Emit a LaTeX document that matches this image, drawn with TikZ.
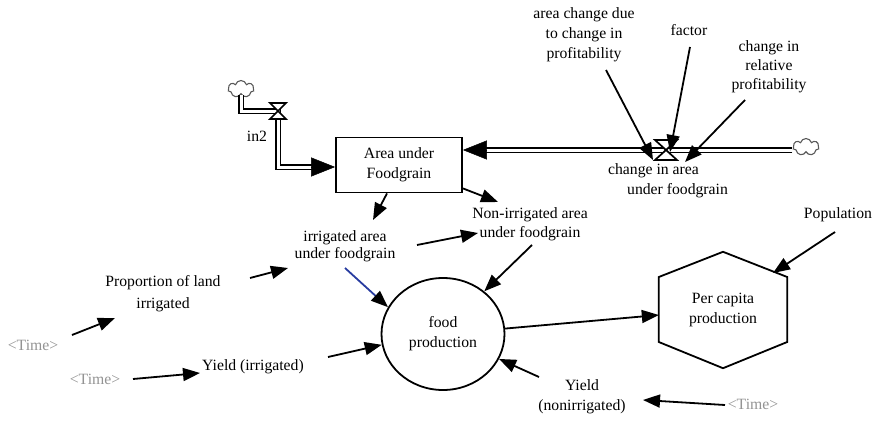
\documentclass[tikz,border=0pt]{standalone}
\usepackage{fontspec}
\setmainfont{Liberation Serif}
\usetikzlibrary{arrows.meta,shapes.geometric,shapes.symbols,calc}
\definecolor{linkblue}{RGB}{40,60,160}
\begin{document}
\begin{tikzpicture}[x=1pt,y=-1pt,
 every node/.style={font=\fontsize{15.7}{20}\selectfont, align=center, inner sep=1pt},
 lnk/.style={line width=1.8pt, -{Triangle[length=17pt,width=13pt]}},
 pipe/.style={double, line width=1.7pt, double distance=3pt},
 pipetip/.style={line width=0.5pt, -{Triangle[length=24pt,width=19pt]}},
 valvest/.style={fill=white, draw, line width=1.7pt, line join=miter},
 cloudst/.style={cloud, cloud puffs=7, aspect=1.6, draw=gray!70!black, line width=1.1pt, minimum width=26pt, minimum height=17pt, inner sep=0pt},
 tm/.style={text=gray!85},
]
\useasboundingbox (0,0) rectangle (880,420);

\node (t1) at (584,35) {area change due\\to change in\\profitability};
\node (factor) at (689,30) {factor};
\node[font=\fontsize{15.7}{19}\selectfont] (relp) at (769,67) {change in\\relative\\profitability};
\node[align=left] (chg) at (668,181) {change in area\\\hspace*{19pt}under foodgrain};
\node[draw, line width=1.8pt, minimum width=126pt, minimum height=55pt] (box) at (399,165) {Area under\\Foodgrain};
\node[font=\fontsize{15.7}{19}\selectfont] (nonirr) at (530,224) {Non-irrigated area\\under foodgrain};
\node[font=\fontsize{15.7}{17.5}\selectfont] (irr) at (345,246) {irrigated area\\under foodgrain};
\node[font=\fontsize{15.7}{22}\selectfont] (prop) at (163,294) {Proportion of land\\irrigated};
\node[tm] (time1) at (33,345) {<Time>};
\node[tm] (time2) at (95,379) {<Time>};
\node[tm] (time3) at (753,404) {<Time>};
\node (yirr) at (253,367) {Yield (irrigated)};
\node[ellipse, draw, line width=1.8pt, minimum width=123pt, minimum height=112pt] (food) at (443,334) {food\\production};
\node[minimum width=128pt, minimum height=116pt] (hex) at (723,310) {Per capita\\production};
\draw[line width=1.8pt, line join=miter] (hex.north) -- ($(hex.east)+(0,-33)$) -- ($(hex.east)+(0,32)$) -- (hex.south) -- ($(hex.west)+(0,32)$) -- ($(hex.west)+(0,-33)$) -- cycle;
\node (pop) at (838,215) {Population};
\node (ynon) at (582,397) {Yield\\(nonirrigated)};
\node[cloudst] (cloudL) at (241,89) {};
\node[cloudst] (cloudR) at (806,147) {};
\coordinate (valveL) at (278,111);
\coordinate (valveR) at (666,150);
\node (in2) at (257,136) {in2};

% pipes
\draw[pipe] (cloudL.south) |- (valveL) |- ($(box.west)+(-18,2)$);
\draw[pipetip] ($(box.west)+(-20,2)$) -- ($(box.west)+(0,2)$);
\draw[pipe] (cloudR.west |- valveR) -- (valveR) -- ($(box.east |- valveR)+(18,0)$);
\draw[pipetip] ($(box.east |- valveR)+(20,0)$) -- (box.east |- valveR);
\draw[valvest] ($(valveL)+(-8,-8)$) -- ++(16,0) -- ++(-16,16) -- ++(16,0) -- cycle;
\draw[valvest] ($(valveR)+(-11,-10)$) -- ++(22,0) -- ++(-22,20) -- ++(22,0) -- cycle;

% links
\draw[lnk] ($(t1)+(22,35)$) -- ($(valveR)+(-13,10)$);
\draw[lnk] ($(factor)+(1,17)$) -- ($(valveR)+(4,2)$);
\draw[lnk] ($(relp)+(-24,33)$) -- ($(valveR)+(19,12)$);
\draw[lnk] ($(box.south)+(-12,0)$) -- ($(irr)+(28,-26)$);
\draw[lnk] ($(box.south east)+(0,-5)$) -- ($(nonirr)+(-32,-22)$);
\draw[lnk] ($(irr)+(72,-1)$) -- ($(nonirr)+(-52,9)$);
\draw[lnk] ($(prop)+(87,-16)$) -- ($(irr)+(-57,22)$);
\draw[lnk] ($(time1)+(39,-10)$) -- ($(prop)+(-48,24)$);
\draw[lnk] ($(time2)+(38,0)$) -- ($(yirr)+(-53,6)$);
\draw[lnk] ($(yirr)+(75,-10)$) -- (food.190);
\draw[lnk, draw=linkblue, -{Triangle[length=17pt,width=13pt,color=black]}] ($(irr)+(0,22)$) -- (food.154);
\draw[lnk] ($(nonirr)+(2,21)$) -- (food.46);
\draw[lnk] (food.5) -- ($(hex.west)+(0,5)$);
\draw[lnk] ($(pop)+(-3,17)$) -- ($(hex)+(50,-37)$);
\draw[lnk] ($(ynon)+(-43,-20)$) -- (food.336);
\draw[lnk] ($(time3)+(-28,1)$) -- ($(ynon)+(61,3)$);
\end{tikzpicture}
\end{document}
